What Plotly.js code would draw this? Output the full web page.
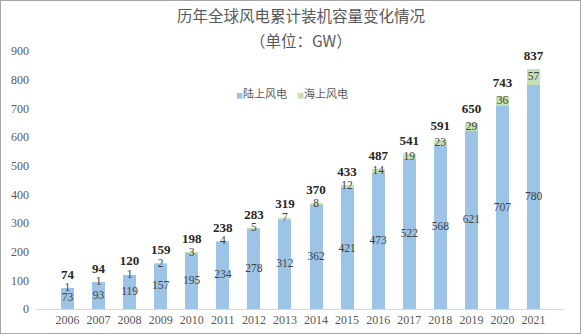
<!DOCTYPE html>
<html><head><meta charset="utf-8">
<script src="https://cdn.plot.ly/plotly-3.0.1.min.js"></script>
<style>
html,body{margin:0;padding:0;background:#fff;}
#frame{width:581px;height:334px;box-sizing:border-box;border:1px solid #a6a6a6;background:#fff;}
#chart{width:579px;height:332px;}
</style></head>
<body><div id="frame"><div id="chart"></div></div>
<script>
const years = ['2006','2007','2008','2009','2010','2011','2012','2013','2014','2015','2016','2017','2018','2019','2020','2021'];
const onshore = [73,93,119,157,195,234,278,312,362,421,473,522,568,621,707,780];
const offshore = [1,1,1,2,3,4,5,7,8,12,14,19,23,29,36,57];
const totals = [74,94,120,159,198,238,283,319,370,433,487,541,591,650,743,837];
const seriesNames = ['陆上风电','海上风电'];
const titleLines = ['历年全球风电累计装机容量变化情况','（单位：GW）'];

const serif = 'Times New Roman, Liberation Serif, serif';
const cjk = 'Noto Sans CJK SC';
const blue = '#9DC3E6', green = '#C5E0B4';

const onMid = onshore.map(v => v / 2);
const offMid = onshore.map((v, i) => v + offshore[i] / 2);

const traces = [
  {type:'bar', name:seriesNames[0], x:years, y:onshore, marker:{color:blue}, hoverinfo:'skip'},
  {type:'bar', name:seriesNames[1], x:years, y:offshore, marker:{color:green}, hoverinfo:'skip'},
  {type:'scatter', mode:'text', x:years, y:onMid, text:onshore.map(String), textposition:'middle center',
   textfont:{family:serif, size:11.5, color:'#404040'}, hoverinfo:'skip'},
  {type:'scatter', mode:'text', x:years, y:offMid, text:offshore.map(String), textposition:'middle center',
   textfont:{family:serif, size:11.5, color:'#404040'}, hoverinfo:'skip'},
  {type:'scatter', mode:'markers+text', x:years, y:totals, text:totals.map(v => '<b>' + v + '</b>'), textposition:'top center',
   marker:{size:8, opacity:0}, textfont:{family:serif, size:13, color:'#262626'}, hoverinfo:'skip'}
];

const sq = c => '<span style="color:' + c + ';font-size:7px">■</span>';
const layout = {
  width:579, height:332,
  margin:{l:35, r:15, t:50, b:24},
  paper_bgcolor:'#fff', plot_bgcolor:'#fff',
  barmode:'stack', bargap:0.58,
  showlegend:false,
  annotations:[
    {text:titleLines[0], xref:'paper', yref:'paper', x:0.5, y:1.1395, xanchor:'center', yanchor:'middle', showarrow:false,
     font:{family:cjk, size:15.5, color:'#595959'}},
    {text:titleLines[1], xref:'paper', yref:'paper', x:0.5, y:1.0426, xanchor:'center', yanchor:'middle', showarrow:false,
     font:{family:cjk, size:15.5, color:'#595959'}},
    {text:sq(blue) + seriesNames[0], xref:'paper', yref:'paper', x:0.375, y:0.837,
     xanchor:'left', yanchor:'middle', showarrow:false, font:{family:cjk, size:11, color:'#595959'}},
    {text:sq(green) + seriesNames[1], xref:'paper', yref:'paper', x:0.49, y:0.837,
     xanchor:'left', yanchor:'middle', showarrow:false, font:{family:cjk, size:11, color:'#595959'}}
  ],
  xaxis:{type:'category', showgrid:false, zeroline:false, showline:true, linecolor:'#d9d9d9', linewidth:1,
         ticks:'', tickfont:{family:serif, size:12, color:'#595959'}},
  yaxis:{range:[0,900], dtick:100, tick0:0, showgrid:false, zeroline:false, showline:false, ticks:'',
         ticklabelstandoff:6, tickfont:{family:serif, size:12, color:'#595959'}},
  font:{family:serif}
};

Plotly.newPlot('chart', traces, layout, {displayModeBar:false, staticPlot:true});
</script></body></html>
